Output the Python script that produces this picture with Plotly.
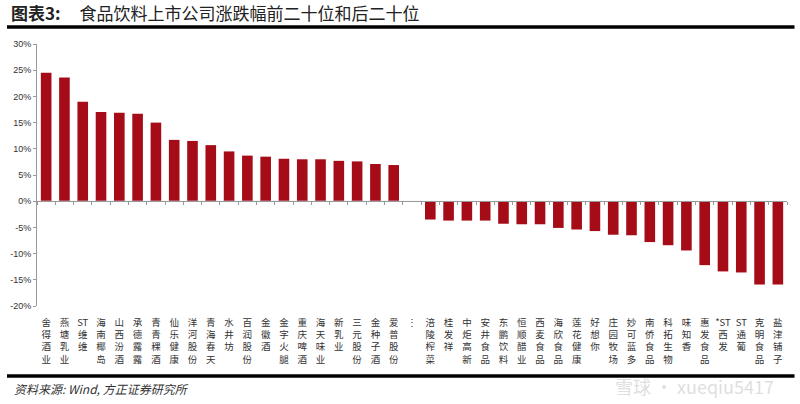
import plotly.graph_objects as go

# top 20 and bottom 20 names, with a gap marker between them
top_names = ['舍得酒业', '燕塘乳业', 'ST维维', '海南椰岛', '山西汾酒', '承德露露', '青青稞酒',
             '仙乐健康', '洋河股份', '青海春天', '水井坊', '百润股份', '金徽酒', '金字火腿',
             '重庆啤酒', '海天味业', '新乳业', '三元股份', '金种子酒', '爱普股份']
top_values = [24.5, 23.6, 19.0, 17.0, 16.9, 16.7, 15.0, 11.7, 11.5, 10.7,
              9.5, 8.7, 8.5, 8.1, 8.0, 8.0, 7.7, 7.6, 7.1, 6.9]

bottom_names = ['涪陵榨菜', '桂发祥', '中炬高新', '安井食品', '东鹏饮料', '恒顺醋业', '西麦食品',
                '海欣食品', '莲花健康', '好想你', '庄园牧场', '妙可蓝多', '南侨食品', '科拓生物',
                '味知香', '惠发食品', '*ST西发', 'ST通葡', '克明食品', '盐津铺子']
bottom_values = [-3.5, -3.7, -3.7, -3.7, -4.3, -4.4, -4.4, -5.1, -5.4, -5.7,
                 -6.4, -6.5, -7.8, -8.4, -9.4, -12.2, -13.4, -13.6, -15.9, -15.9]

y_ticks = [-20, -15, -10, -5, 0, 5, 10, 15, 20, 25, 30]


def vertical(name):
    # stack characters top to bottom, keep latin runs together
    parts = []
    buf = ''
    for ch in name:
        if ch.isascii():
            buf += ch
        else:
            if buf:
                parts.append(buf)
                buf = ''
            parts.append(ch)
    if buf:
        parts.append(buf)
    return '<br>'.join(parts)


categories = [vertical(n) for n in top_names] + ['⋮'] + [vertical(n) for n in bottom_names]
values = top_values + [None] + bottom_values

bar_color = '#A60C17'

fig = go.Figure()
fig.add_trace(go.Bar(
    x=categories,
    y=values,
    marker=dict(color=bar_color, line=dict(width=0)),
    xaxis='x',
    yaxis='y',
    showlegend=False,
))
# invisible copy to carry the zero-line axis with boundary ticks
fig.add_trace(go.Bar(
    x=categories,
    y=[0] * len(categories),
    xaxis='x2',
    yaxis='y',
    showlegend=False,
    hoverinfo='skip',
))

fig.update_layout(
    width=800,
    height=404,
    margin=dict(l=37, r=13, t=44, b=98),
    paper_bgcolor='white',
    plot_bgcolor='white',
    bargap=0.42,
    font=dict(family='Noto Sans CJK SC, Arial', color='#333333'),
    xaxis=dict(
        type='category',
        automargin=False,
        showline=False,
        showgrid=False,
        ticks='',
        tickangle=0,
        ticklabelstandoff=9,
        tickfont=dict(size=9.5, family='Noto Sans CJK SC', color='#333333'),
    ),
    xaxis2=dict(
        type='category',
        automargin=False,
        overlaying='x',
        anchor='free',
        position=0.4,
        side='bottom',
        matches='x',
        showline=True,
        linecolor='#999999',
        linewidth=1,
        showgrid=False,
        ticks='outside',
        tickson='boundaries',
        ticklen=3,
        tickcolor='#999999',
        showticklabels=False,
    ),
    yaxis=dict(
        range=[-20, 30],
        automargin=False,
        tickvals=y_ticks,
        ticktext=[f'{v}%' for v in y_ticks],
        showgrid=False,
        zeroline=False,
        showline=True,
        linecolor='#999999',
        linewidth=1,
        ticks='outside',
        ticklen=3,
        tickcolor='#999999',
        tickfont=dict(size=9, family='Arial', color='#333333'),
    ),
)

# title and frame lines
fig.add_annotation(
    text='<b>图表3:</b>     食品饮料上市公司涨跌幅前二十位和后二十位',
    xref='paper', yref='paper', x=-0.037, y=1.0 + 31 / 262, yanchor='middle', xanchor='left',
    showarrow=False,
    font=dict(size=17, color='#222222', family='Noto Sans CJK SC'),
)
fig.add_shape(type='line', xref='paper', yref='paper', x0=-0.04, x1=1.01,
              y0=1.0 + 17 / 262, y1=1.0 + 17 / 262, line=dict(color='black', width=3.5))
fig.add_shape(type='line', xref='paper', yref='paper', x0=-0.04, x1=1.01,
              y0=-70 / 262, y1=-70 / 262, line=dict(color='black', width=3.5))

fig.add_annotation(
    text='<i>资料来源: Wind, 方正证券研究所</i>',
    xref='paper', yref='paper', x=-0.033, y=-82 / 262, xanchor='left', yanchor='middle',
    showarrow=False, font=dict(size=12, color='#333333', family='Noto Sans CJK SC'),
)
fig.add_annotation(
    text='雪球 · xueqiu5417',
    xref='paper', yref='paper', x=0.985, y=-80 / 262, xanchor='right', yanchor='middle',
    showarrow=False, font=dict(size=18, color='rgba(200,200,200,0.6)', family='Noto Sans CJK SC'),
)

# drop the page's default body margin so the chart sits at the window corner
fig.write_html('out.html', config={'displayModeBar': False},
               post_script="document.body.style.margin='0';")
